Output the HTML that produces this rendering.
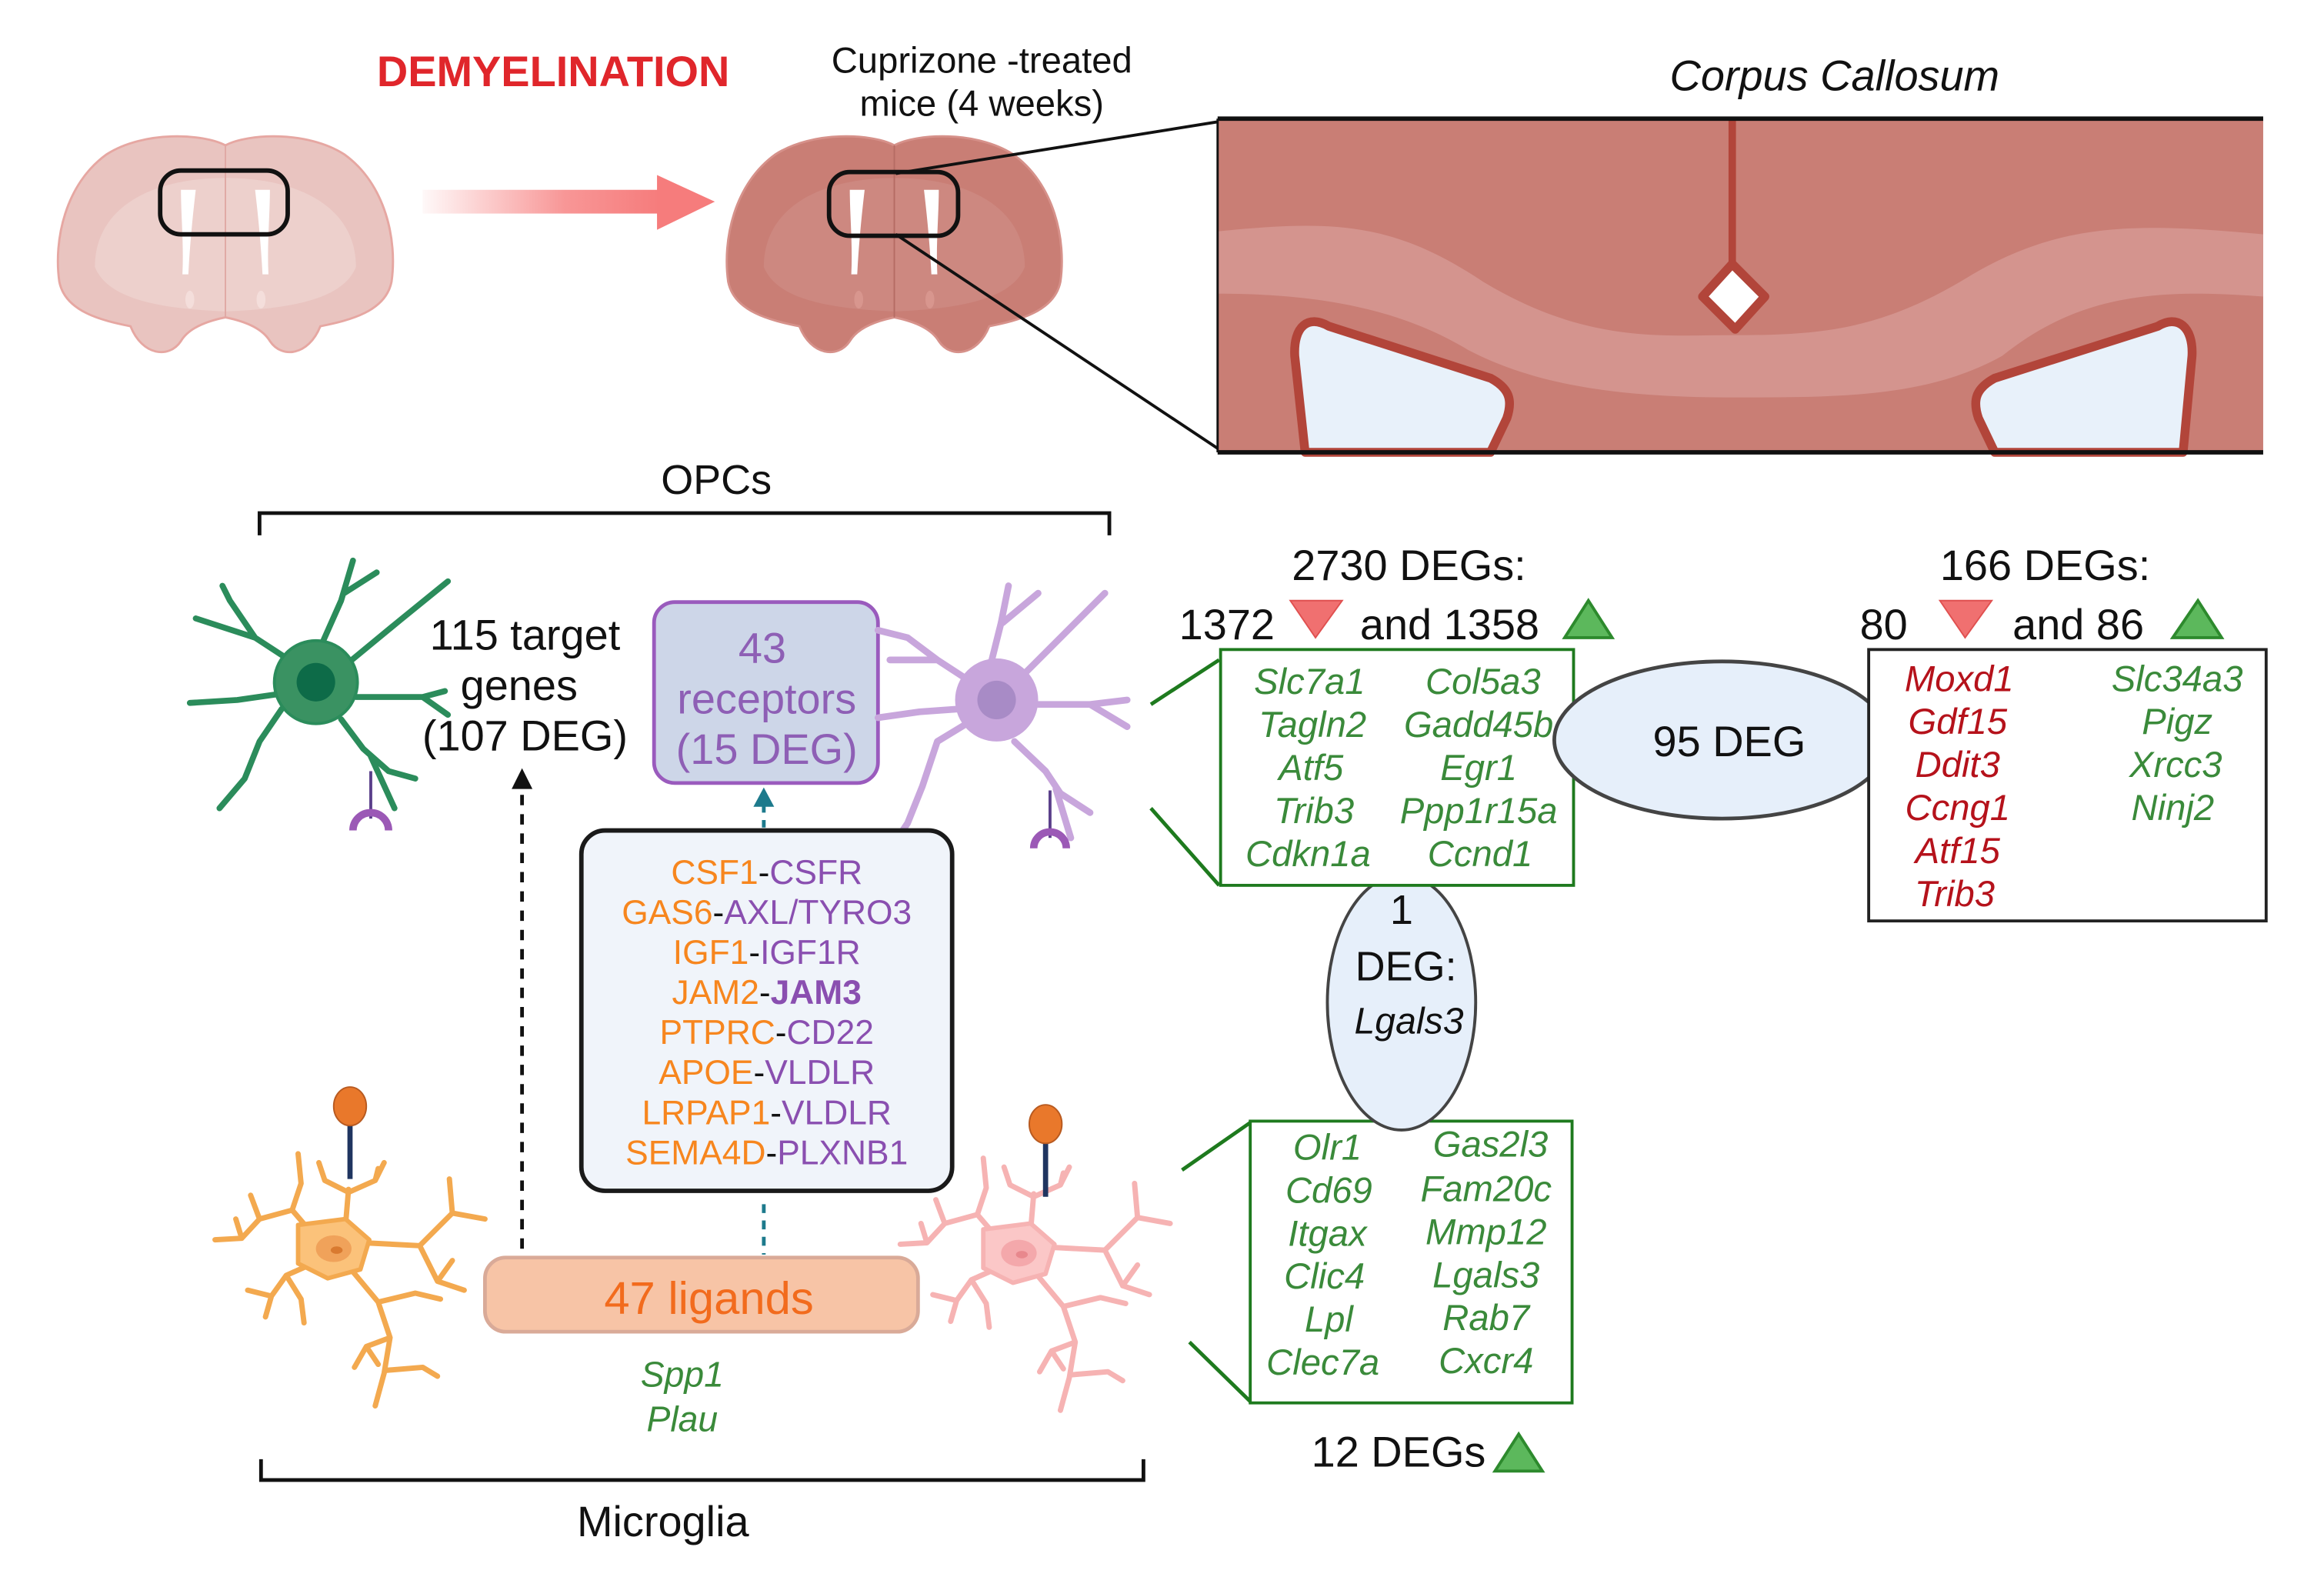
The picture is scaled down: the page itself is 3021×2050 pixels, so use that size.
<!DOCTYPE html>
<html><head><meta charset="utf-8"><style>
html,body{margin:0;padding:0;background:#fff;}
svg{display:block;}
text{font-family:"Liberation Sans",sans-serif;}
.it{font-style:italic;}
</style></head><body>
<svg width="3021" height="2050" viewBox="0 0 1567 1063.4" preserveAspectRatio="none" xmlns="http://www.w3.org/2000/svg">
<defs>
<linearGradient id="ag" x1="0" x2="1" y1="0" y2="0">
<stop offset="0" stop-color="#f67c7c" stop-opacity="0.05"/>
<stop offset="0.6" stop-color="#f67c7c" stop-opacity="0.8"/>
<stop offset="1" stop-color="#f67c7c"/>
</linearGradient>
<path id="brain" d="M0,8 C-15,0 -55,-2 -80,14 C-108,34 -116,72 -112,100 C-108,120 -84,126 -64,130 C-56,150 -38,152 -30,140 C-24,130 -10,126 0,124 C10,126 24,130 30,140 C38,152 56,150 64,130 C84,126 108,120 112,100 C116,72 108,34 80,14 C55,-2 15,0 0,8 Z"/>
<path id="inner" d="M-88,90 C-88,50 -50,30 0,30 C50,30 88,50 88,90 C80,110 50,118 0,120 C-50,118 -80,110 -88,90Z"/>
<path id="vent" d="M-30,38 L-20,38 C-22,55 -24,75 -25,95 L-29,95 C-28,75 -30,55 -30,38Z M30,38 L20,38 C22,55 24,75 25,95 L29,95 C28,75 30,55 30,38Z"/>
<g id="mg" fill="none" stroke-width="3.6" stroke-linecap="round" stroke-linejoin="round">
<path d="M8,-14 L10,-38 M10,-36 L-6,-44 L-10,-56 M10,-36 L28,-44 L34,-56 M28,-44 L30,-52"/>
<path d="M-16,-10 L-28,-24 L-50,-18 L-62,-5 L-80,-4 M-28,-24 L-22,-42 L-24,-62 M-50,-18 L-56,-34 M-62,-5 L-66,-18"/>
<path d="M20,-2 L58,0 L80,-22 L102,-18 M80,-22 L78,-45 M58,0 L70,24 L88,30 M70,24 L80,10"/>
<path d="M10,14 L30,38 L55,32 L72,36 M30,38 L38,62 L22,68 L14,82 M22,68 L30,80 M38,62 L34,86 L28,108 M36,84 L60,82 L70,88"/>
<path d="M-14,12 L-32,20 L-42,34 L-46,48 M-32,20 L-22,36 L-20,52 M-42,34 L-58,30"/>
</g>
</defs>

<text x="373" y="58" font-size="29" font-weight="bold" fill="#e0262b" text-anchor="middle">DEMYELINATION</text>
<text x="662" y="49" font-size="24.5" fill="#111" text-anchor="middle">Cuprizone -treated</text>
<text x="662" y="78" font-size="24.5" fill="#111" text-anchor="middle">mice (4 weeks)</text>
<text x="1237" y="61" font-size="29" fill="#111" text-anchor="middle" class="it">Corpus Callosum</text>

<g transform="translate(152,90)">
<use href="#brain" fill="#e9c4c0" stroke="#e6a7a2" stroke-width="1.5"/>
<use href="#inner" fill="#edd0cc"/>
<line x1="0" y1="8" x2="0" y2="124" stroke="#e0a9a4" stroke-width="1"/>
<use href="#vent" fill="#fff"/>
<ellipse cx="-24" cy="112" rx="3" ry="6" fill="#f4dedb"/><ellipse cx="24" cy="112" rx="3" ry="6" fill="#f4dedb"/>
<rect x="-44" y="25" width="86" height="43" rx="14" fill="none" stroke="#111" stroke-width="3"/>
</g>
<rect x="285" y="128" width="160" height="16" fill="url(#ag)"/>
<polygon points="443,118 482,136 443,155" fill="#f67c7c"/>
<g transform="translate(603,90)">
<use href="#brain" fill="#c97e75" stroke="#d6918a" stroke-width="1.5"/>
<use href="#inner" fill="#cd8880"/>
<line x1="0" y1="8" x2="0" y2="124" stroke="#b56c64" stroke-width="1"/>
<use href="#vent" fill="#fff"/>
<ellipse cx="-24" cy="112" rx="3" ry="6" fill="#d8968e"/><ellipse cx="24" cy="112" rx="3" ry="6" fill="#d8968e"/>
<rect x="-44" y="26" width="87" height="43" rx="14" fill="none" stroke="#111" stroke-width="3"/>
</g>
<line x1="604" y1="117" x2="822" y2="82" stroke="#111" stroke-width="2"/>
<line x1="604" y1="158" x2="822" y2="303" stroke="#111" stroke-width="2"/>

<rect x="821" y="80" width="705" height="225" fill="#c97e75"/>
<path d="M821,156 C900,148 940,150 1000,190 C1070,232 1120,226 1170,226 C1230,226 1270,222 1330,185 C1390,150 1440,150 1526,158 L1526,200 C1450,194 1400,200 1350,240 C1300,268 1240,268 1170,268 C1100,268 1040,262 990,236 C950,212 900,198 821,198 Z" fill="#d4948e"/>
<line x1="1168" y1="80" x2="1168" y2="180" stroke="#b2453a" stroke-width="5"/>
<polygon points="1168,178 1190,200 1170,222 1148,200" fill="#fff" stroke="#b2453a" stroke-width="6" stroke-linejoin="round"/>
<path d="M880,305 L873,240 C872,220 882,212 896,220 L1005,255 C1018,262 1020,270 1016,282 L1005,305 Z" fill="#e8f1fa" stroke="#b2453a" stroke-width="6" stroke-linejoin="round"/>
<path d="M1472,305 L1478,240 C1479,220 1468,212 1455,220 L1345,255 C1332,262 1330,270 1334,282 L1345,305 Z" fill="#e8f1fa" stroke="#b2453a" stroke-width="6" stroke-linejoin="round"/>
<line x1="821" y1="80" x2="1526" y2="80" stroke="#111" stroke-width="3"/>
<line x1="821" y1="305" x2="1526" y2="305" stroke="#111" stroke-width="3"/>
<line x1="821" y1="80" x2="821" y2="305" stroke="#111" stroke-width="1.5"/>

<text x="483" y="333" font-size="28" fill="#111" text-anchor="middle">OPCs</text>
<path d="M175,361 L175,346 L748,346 L748,361" fill="none" stroke="#111" stroke-width="2.5"/>
<path d="M176,984 L176,998 L771,998 L771,984" fill="none" stroke="#111" stroke-width="2.5"/>
<text x="447" y="1036" font-size="29" fill="#111" text-anchor="middle">Microglia</text>

<g stroke="#2b8c5b" stroke-width="4" fill="none" stroke-linecap="round" stroke-linejoin="round">
<path d="M195,445 L172,430 L155,405 L150,395 M172,430 L132,417"/>
<path d="M218,432 L230,405 L238,378 M232,400 L254,386"/>
<path d="M236,446 L270,418 L302,392"/>
<path d="M240,470 L285,470 L300,466 M285,470 L302,482"/>
<path d="M230,485 L245,505 L262,520 L280,525 M250,510 L266,545"/>
<path d="M190,478 L175,500 L165,525 L148,545"/>
<path d="M188,468 L160,472 L128,474"/>
</g>
<circle cx="213" cy="460" r="28" fill="#3a9262" stroke="#2b8c5b" stroke-width="2"/>
<circle cx="213" cy="460" r="13" fill="#0d6b48"/>
<line x1="250" y1="520" x2="250" y2="552" stroke="#5a3f8a" stroke-width="2"/>
<path d="M238,560 A12,12 0 0 1 262,560" fill="none" stroke="#9b59b6" stroke-width="5"/>

<text x="354" y="438" font-size="29" fill="#111" text-anchor="middle">115 target</text>
<text x="350" y="472" font-size="29" fill="#111" text-anchor="middle">genes</text>
<text x="354" y="506" font-size="29" fill="#111" text-anchor="middle">(107 DEG)</text>

<rect x="441" y="406" width="151" height="122" rx="14" fill="#cdd6e8" stroke="#9a5bbd" stroke-width="2.5"/>
<text x="514" y="447" font-size="29" fill="#8e5fb5" text-anchor="middle">43</text>
<text x="517" y="481" font-size="29" fill="#8e5fb5" text-anchor="middle">receptors</text>
<text x="517" y="515" font-size="29" fill="#8e5fb5" text-anchor="middle">(15 DEG)</text>

<g stroke="#c8a6dc" stroke-width="4.5" fill="none" stroke-linecap="round" stroke-linejoin="round">
<path d="M655,460 L632,445 L612,430 L592,425 M632,445 L600,445"/>
<path d="M648,478 L620,480 L592,484"/>
<path d="M655,486 L632,500 L622,530 L612,555 L602,570"/>
<path d="M668,448 L675,420 L680,395 M676,420 L700,400"/>
<path d="M690,455 L720,425 L745,400"/>
<path d="M700,475 L735,475 L760,472 M735,475 L760,490"/>
<path d="M684,500 L705,520 L715,535 L735,548 M712,532 L722,565"/>
</g>
<circle cx="672" cy="472" r="28" fill="#c8a6dc"/>
<circle cx="672" cy="472" r="13" fill="#a88bc6"/>
<line x1="708" y1="533" x2="708" y2="565" stroke="#5a3f8a" stroke-width="2"/>
<path d="M697,572 A11,11 0 0 1 719,572" fill="none" stroke="#9b59b6" stroke-width="5"/>

<line x1="352" y1="842" x2="352" y2="532" stroke="#111" stroke-width="2.5" stroke-dasharray="7,6"/>
<polygon points="345,532 359,532 352,518" fill="#111"/>
<line x1="515" y1="812" x2="515" y2="846" stroke="#1d7a8c" stroke-width="2.5" stroke-dasharray="6,5"/>
<line x1="515" y1="542" x2="515" y2="558" stroke="#1d7a8c" stroke-width="2.5" stroke-dasharray="6,5"/>
<polygon points="508,544 522,544 515,531" fill="#1d7a8c"/>

<rect x="392" y="560" width="250" height="243" rx="16" fill="#f0f4fa" stroke="#1a1a1a" stroke-width="3"/>
<g font-size="23" text-anchor="middle">
<text x="517" y="596"><tspan fill="#f7861e">CSF1</tspan><tspan fill="#111">-</tspan><tspan fill="#8a4fb0">CSFR</tspan></text>
<text x="517" y="623"><tspan fill="#f7861e">GAS6</tspan><tspan fill="#111">-</tspan><tspan fill="#8a4fb0">AXL/TYRO3</tspan></text>
<text x="517" y="650"><tspan fill="#f7861e">IGF1</tspan><tspan fill="#111">-</tspan><tspan fill="#8a4fb0">IGF1R</tspan></text>
<text x="517" y="677"><tspan fill="#f7861e">JAM2</tspan><tspan fill="#111">-</tspan><tspan fill="#8a4fb0" font-weight="bold">JAM3</tspan></text>
<text x="517" y="704"><tspan fill="#f7861e">PTPRC</tspan><tspan fill="#111">-</tspan><tspan fill="#8a4fb0">CD22</tspan></text>
<text x="517" y="731"><tspan fill="#f7861e">APOE</tspan><tspan fill="#111">-</tspan><tspan fill="#8a4fb0">VLDLR</tspan></text>
<text x="517" y="758"><tspan fill="#f7861e">LRPAP1</tspan><tspan fill="#111">-</tspan><tspan fill="#8a4fb0">VLDLR</tspan></text>
<text x="517" y="785"><tspan fill="#f7861e">SEMA4D</tspan><tspan fill="#111">-</tspan><tspan fill="#8a4fb0">PLXNB1</tspan></text>
</g>

<g transform="translate(225,840)">
<use href="#mg" stroke="#f3a94f"/>
<path d="M-24,-14 L8,-18 L24,-4 L18,16 L-4,22 L-24,12 Z" fill="#fbc27a" stroke="#f3a94f" stroke-width="3" stroke-linejoin="round"/>
<ellipse cx="0" cy="2" rx="12" ry="9" fill="#f0a25a"/>
<ellipse cx="2" cy="3" rx="4" ry="2.5" fill="#d97a30"/>
</g>
<line x1="236" y1="756" x2="236" y2="795" stroke="#1f3560" stroke-width="3.5"/>
<ellipse cx="236" cy="746" rx="11" ry="13" fill="#e9782b" stroke="#b85a20" stroke-width="1"/>

<g transform="translate(687,843)">
<use href="#mg" stroke="#f6b3b3"/>
<path d="M-24,-14 L8,-18 L24,-4 L18,16 L-4,22 L-24,12 Z" fill="#fbc7c7" stroke="#f6b3b3" stroke-width="3" stroke-linejoin="round"/>
<ellipse cx="0" cy="2" rx="12" ry="9" fill="#f4a8ab"/>
<ellipse cx="2" cy="3" rx="4" ry="2.5" fill="#e8888d"/>
</g>
<line x1="705" y1="770" x2="705" y2="807" stroke="#1f3560" stroke-width="3.5"/>
<ellipse cx="705" cy="758" rx="11" ry="13" fill="#e9782b" stroke="#b85a20" stroke-width="1"/>

<rect x="327" y="848" width="292" height="50" rx="14" fill="#f7c4a6" stroke="#d9aa98" stroke-width="2.5"/>
<text x="478" y="886" font-size="31" fill="#f26b1d" text-anchor="middle">47 ligands</text>
<text x="460" y="935" font-size="24" fill="#3a8a3a" text-anchor="middle" class="it">Spp1</text>
<text x="460" y="965" font-size="24" fill="#3a8a3a" text-anchor="middle" class="it">Plau</text>

<text x="950" y="391" font-size="29" fill="#111" text-anchor="middle">2730 DEGs:</text>
<text x="795" y="431" font-size="29" fill="#111">1372</text>
<polygon points="870,405 905,405 887,430" fill="#f07070" stroke="#e05050" stroke-width="1"/>
<text x="917" y="431" font-size="29" fill="#111">and 1358</text>
<polygon points="1055,430 1087,430 1071,405" fill="#5cb85c" stroke="#2d8a2d" stroke-width="2"/>

<text x="1379" y="391" font-size="29" fill="#111" text-anchor="middle">166 DEGs:</text>
<text x="1254" y="431" font-size="29" fill="#111">80</text>
<polygon points="1308,405 1343,405 1325,430" fill="#f07070" stroke="#e05050" stroke-width="1"/>
<text x="1357" y="431" font-size="29" fill="#111">and 86</text>
<polygon points="1465,430 1498,430 1482,405" fill="#5cb85c" stroke="#2d8a2d" stroke-width="2"/>

<line x1="776" y1="475" x2="822" y2="445" stroke="#1e7a1e" stroke-width="2.5"/>
<line x1="776" y1="545" x2="822" y2="597" stroke="#1e7a1e" stroke-width="2.5"/>
<line x1="797" y1="789" x2="843" y2="757" stroke="#1e7a1e" stroke-width="2.5"/>
<line x1="802" y1="905" x2="843" y2="945" stroke="#1e7a1e" stroke-width="2.5"/>

<rect x="843" y="756" width="217" height="190" fill="#fff" stroke="#1e7a1e" stroke-width="2"/>
<ellipse cx="945" cy="676" rx="50" ry="86" fill="#e6effa" stroke="#444" stroke-width="2"/>
<text x="945" y="623" font-size="28" fill="#111" text-anchor="middle">1</text>
<text x="948" y="661" font-size="28" fill="#111" text-anchor="middle">DEG:</text>
<text x="950" y="697" font-size="25" fill="#111" text-anchor="middle" class="it">Lgals3</text>

<rect x="823" y="438" width="238" height="159" fill="#fff" stroke="#1e7a1e" stroke-width="2"/>
<g font-size="24.5" fill="#3a8a3a" text-anchor="middle" class="it">
<text x="883" y="468">Slc7a1</text><text x="1000" y="468">Col5a3</text>
<text x="885" y="497">Tagln2</text><text x="997" y="497">Gadd45b</text>
<text x="884" y="526">Atf5</text><text x="997" y="526">Egr1</text>
<text x="886" y="555">Trib3</text><text x="997" y="555">Ppp1r15a</text>
<text x="882" y="584">Cdkn1a</text><text x="998" y="584">Ccnd1</text>
</g>
<ellipse cx="1161" cy="499" rx="113" ry="53" fill="#e6effa" stroke="#444" stroke-width="2.5"/>
<text x="1166" y="510" font-size="29" fill="#111" text-anchor="middle">95 DEG</text>

<rect x="1260" y="438" width="268" height="183" fill="#fff" stroke="#222" stroke-width="2"/>
<g font-size="24.5" fill="#b5121b" text-anchor="middle" class="it">
<text x="1321" y="466">Moxd1</text><text x="1320" y="495">Gdf15</text><text x="1320" y="524">Ddit3</text>
<text x="1320" y="553">Ccng1</text><text x="1320" y="582">Atf15</text><text x="1318" y="611">Trib3</text>
</g>
<g font-size="24.5" fill="#3a8a3a" text-anchor="middle" class="it">
<text x="1468" y="466">Slc34a3</text><text x="1468" y="495">Pigz</text><text x="1467" y="524">Xrcc3</text><text x="1465" y="553">Ninj2</text>
</g>

<g font-size="24.5" fill="#3a8a3a" text-anchor="middle" class="it">
<text x="895" y="782">Olr1</text><text x="1005" y="780">Gas2l3</text>
<text x="896" y="811">Cd69</text><text x="1002" y="810">Fam20c</text>
<text x="895" y="840">Itgax</text><text x="1002" y="839">Mmp12</text>
<text x="893" y="869">Clic4</text><text x="1002" y="868">Lgals3</text>
<text x="896" y="898">Lpl</text><text x="1002" y="897">Rab7</text>
<text x="892" y="927">Clec7a</text><text x="1002" y="926">Cxcr4</text>
</g>
<text x="943" y="989" font-size="29" fill="#111" text-anchor="middle">12 DEGs</text>
<polygon points="1008,992 1040,992 1024,967" fill="#5cb85c" stroke="#2d8a2d" stroke-width="2"/>
</svg>
</body></html>
